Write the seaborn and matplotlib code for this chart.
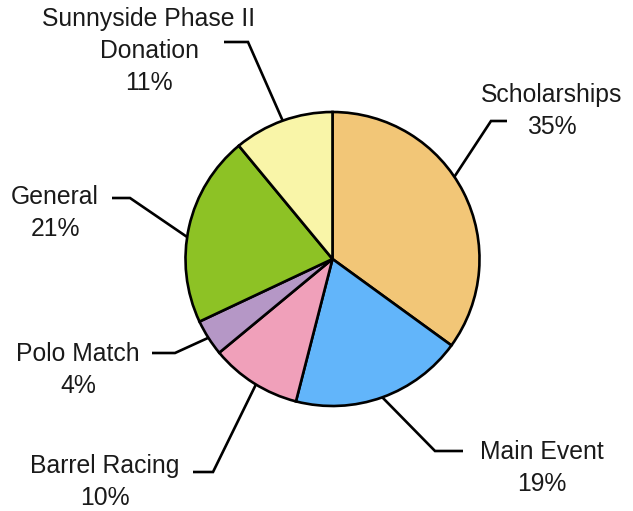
import matplotlib
matplotlib.use("Agg")
import matplotlib.pyplot as plt
import seaborn as sns
import numpy as np

categories = ["Scholarships", "Main Event", "Barrel Racing", "Polo Match",
              "General", "Sunnyside Phase II\nDonation"]
values = [35, 19, 10, 4, 21, 11]
colors = ["#F2C677", "#62B5FA", "#F0A0BA", "#B597C6", "#8DC225", "#F9F5A8"]

sns.set_theme(style="white")
plt.rcParams['font.family'] = ['Liberation Sans', 'DejaVu Sans']

W, H = 633, 511
fig = plt.figure(figsize=(W / 100, H / 100), dpi=100)
ax = fig.add_axes([0, 0, 1, 1])

cx, cy, R = 332.5, H - 259, 147
wedges, _ = ax.pie(values, colors=colors, startangle=90, counterclock=False,
                   center=(cx, cy), radius=R, frame=True,
                   wedgeprops=dict(edgecolor="black", linewidth=1.9))
ax.set_xlim(0, W)
ax.set_ylim(0, H)
ax.set_aspect('equal')
ax.axis('off')

# label layout: (angle offset deg, elbow x, elbow y, end x, text center x, text block center y)
layout = [
    (7, 491, 121, 507, 552, 111),
    (0, 435, 451, 463, 542, 468),
    (1, 213, 472, 193, 105, 482),
    (0, 175, 353, 152, 78, 370),
    (4, 130, 198, 112, 55, 213),
    (0, 248, 42, 224, 149, 51),
]

for w, v, name, (off, ex, ey, endx, tx, ty) in zip(wedges, values, categories, layout):
    mid = np.deg2rad((w.theta1 + w.theta2) / 2 + off)
    px, py = cx + R * np.cos(mid), cy + R * np.sin(mid)
    ax.plot([px, ex, endx], [py, H - ey, H - ey], color="black", lw=1.9,
            solid_capstyle="butt", solid_joinstyle="miter")
    ax.text(tx, H - ty, f"{name}\n{v}%", ha="center", va="center",
            fontsize=17.8, color="#1a1a1a", linespacing=1.4)

fig.savefig("out.png", dpi=100)
